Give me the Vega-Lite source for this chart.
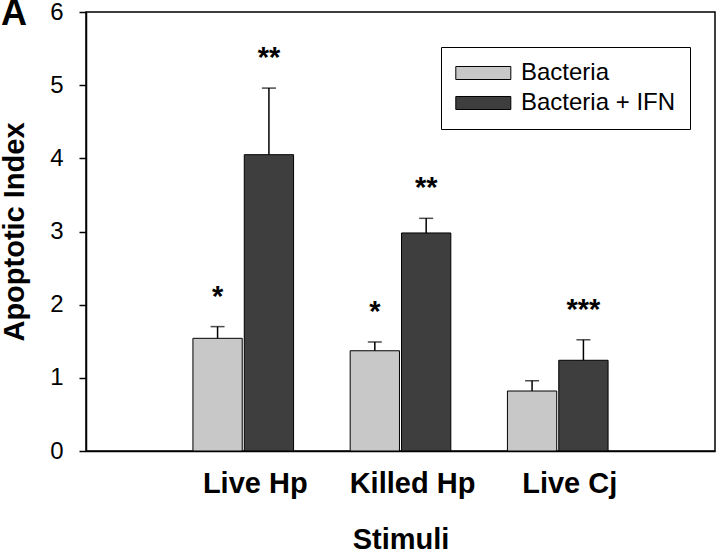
{
  "$schema": "https://vega.github.io/schema/vega-lite/v6.json",
  "width": 629,
  "height": 439,
  "autosize": {"type": "none"},
  "padding": {"left": 86, "top": 12, "right": 5, "bottom": 105},
  "background": "white",
  "config": {
    "font": "Liberation Sans",
    "view": {"stroke": "black", "strokeWidth": 1.5},
    "axis": {"grid": false, "domainColor": "black", "domainWidth": 1.5, "labelColor": "black", "titleColor": "black", "tickColor": "black", "tickWidth": 1.5}
  },
  "title": {"text": "A", "anchor": "start", "frame": "group", "fontSize": 36, "fontWeight": "bold", "offset": 0, "dx": -85, "dy": 61, "baseline": "alphabetic", "color": "black"},
  "data": {
    "values": [
      {"stimulus": "Live Hp", "treatment": "Bacteria", "value": 1.54, "upper": 1.70, "sig": "*"},
      {"stimulus": "Live Hp", "treatment": "Bacteria + IFN", "value": 4.05, "upper": 4.96, "sig": "**"},
      {"stimulus": "Killed Hp", "treatment": "Bacteria", "value": 1.37, "upper": 1.49, "sig": "*"},
      {"stimulus": "Killed Hp", "treatment": "Bacteria + IFN", "value": 2.98, "upper": 3.18, "sig": "**"},
      {"stimulus": "Live Cj", "treatment": "Bacteria", "value": 0.82, "upper": 0.96, "sig": ""},
      {"stimulus": "Live Cj", "treatment": "Bacteria + IFN", "value": 1.24, "upper": 1.52, "sig": "***"}
    ]
  },
  "encoding": {
    "x": {
      "field": "stimulus", "type": "nominal", "sort": ["Live Hp", "Killed Hp", "Live Cj"],
      "scale": {"paddingInner": 0.36, "paddingOuter": 0.68},
      "title": "Stimuli",
      "axis": {"ticks": false, "labelAngle": 0, "labelFontSize": 29, "labelFontWeight": "bold", "labelPadding": 18, "labelOffset": 12, "titleFontSize": 29, "titleFontWeight": "bold", "titlePadding": 27}
    },
    "xOffset": {"field": "treatment", "type": "nominal", "sort": ["Bacteria", "Bacteria + IFN"], "scale": {"paddingInner": 0.04}}
  },
  "layer": [
    {
      "mark": {"type": "bar", "stroke": "black", "strokeWidth": 1},
      "encoding": {
        "y": {"field": "value", "type": "quantitative", "scale": {"domain": [0, 6]}, "title": "Apoptotic Index",
          "axis": {"values": [0, 1, 2, 3, 4, 5, 6], "format": "d", "tickSize": 7, "labelPadding": 16, "labelFontSize": 24, "titleFontSize": 29, "titleFontWeight": "bold", "titlePadding": 20}},
        "color": {
          "field": "treatment", "type": "nominal",
          "scale": {"domain": ["Bacteria", "Bacteria + IFN"], "range": ["#c8c8c8", "#3e3e3e"]},
          "legend": {"title": null, "orient": "none", "legendX": 355, "legendY": 35, "labelFontSize": 24, "labelColor": "black", "symbolType": "M-1.6,-0.93H6.26V0.93H-1.6Z", "symbolSize": 196, "symbolStrokeColor": "black", "symbolStrokeWidth": 1, "symbolOpacity": 1, "labelOffset": 42, "rowPadding": 6, "padding": 14, "strokeColor": "black", "fillColor": "white"}
        }
      }
    },
    {
      "mark": {"type": "rule", "color": "black", "strokeWidth": 1.5},
      "encoding": {"y": {"field": "value", "type": "quantitative", "title": "Apoptotic Index"}, "y2": {"field": "upper"}}
    },
    {
      "mark": {"type": "tick", "color": "black", "thickness": 1.5, "size": 14, "orient": "horizontal"},
      "encoding": {"y": {"field": "upper", "type": "quantitative", "title": "Apoptotic Index"}}
    },
    {
      "mark": {"type": "text", "fontSize": 29, "fontWeight": "bold", "dy": -21, "baseline": "alphabetic", "color": "black"},
      "encoding": {"y": {"field": "upper", "type": "quantitative", "title": "Apoptotic Index"}, "text": {"field": "sig"}}
    }
  ]
}
